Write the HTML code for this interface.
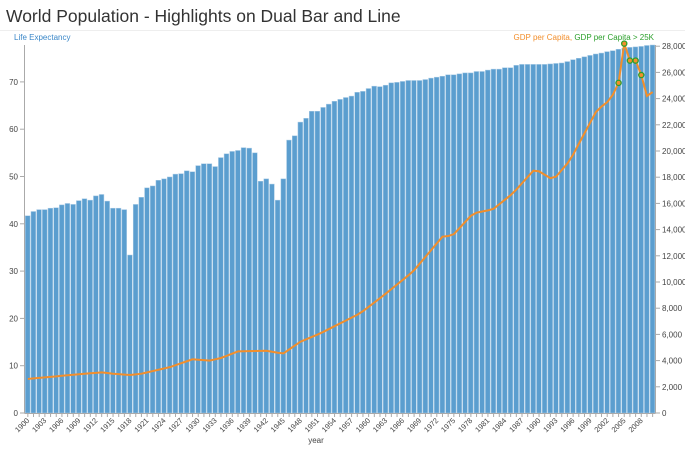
<!DOCTYPE html>
<html><head><meta charset="utf-8"><style>
body{margin:0;background:#fff;font-family:"Liberation Sans",sans-serif}
svg text{font-family:"Liberation Sans",sans-serif}
</style></head><body>
<svg id="c" width="685" height="447" xmlns="http://www.w3.org/2000/svg">
<text x="6" y="22" font-size="17.5" fill="#333">World Population - Highlights on Dual Bar and Line</text>
<line x1="0" y1="30.5" x2="685" y2="30.5" stroke="#eee"/>
<text x="14" y="40" font-size="8" fill="#3a87c8">Life Expectancy</text>
<text x="654" y="40" font-size="8" text-anchor="end"><tspan fill="#f28e2b">GDP per Capita, </tspan><tspan fill="#2ca02c">GDP per Capita &gt; 25K</tspan></text>
<text x="316" y="443" font-size="8" fill="#444" text-anchor="middle">year</text>
<g id="g"></g>
</svg>
<script>
var le=[41.7,42.6,43.0,43.0,43.3,43.4,44.0,44.3,44.1,44.9,45.3,45.0,45.9,46.2,44.8,43.3,43.3,43.0,33.4,44.1,45.6,47.6,48.0,49.2,49.5,49.9,50.5,50.6,51.2,51.0,52.3,52.7,52.7,52.1,54.0,54.8,55.3,55.5,56.1,56.0,55.0,49.0,49.5,48.4,45.0,49.5,57.7,58.6,61.5,62.3,63.8,63.8,64.6,65.3,65.9,66.3,66.7,67.0,67.8,68.0,68.6,69.1,69.0,69.3,69.8,69.9,70.1,70.3,70.3,70.3,70.5,70.8,71.0,71.2,71.5,71.5,71.7,71.9,71.9,72.2,72.2,72.5,72.7,72.7,73.0,73.0,73.5,73.7,73.7,73.7,73.7,73.7,73.8,73.9,74.0,74.3,74.7,75.0,75.3,75.6,75.9,76.1,76.4,76.6,76.9,77.1,77.3,77.4,77.5,77.7,77.8];
var kp=[[0,2600],[5,2800],[10,3000],[13,3100],[15,3000],[18,2900],[20,3000],[25,3500],[29,4100],[32,4000],[34,4200],[37,4700],[42,4750],[44,4600],[45,4550],[48,5443],[51.5,6080],[58.5,7610],[62.5,8930],[67.8,10790],[73.1,13510],[74.7,13510],[78.4,15240],[81.9,15550],[85.4,16770],[89,18500],[89.8,18500],[92.5,17790],[95.5,19310],[97.2,20710],[100.2,23130],[102.5,23890],[103,24300],[104,25200],[105,28200],[106,26900],[107,26900],[108,25800],[109,24200],[110,24500]];
function gdp(i){for(var k=0;k<kp.length-1;k++){if(i>=kp[k][0]&&i<=kp[k+1][0]){var t=(i-kp[k][0])/(kp[k+1][0]-kp[k][0]);return kp[k][1]+t*(kp[k+1][1]-kp[k][1]);}}return kp[kp.length-1][1];}
var X0=25,bw=5.68,Y0=413,ly=4.73,ry=0.0131,s='';
for(var i=0;i<111;i++){var h=le[i]*ly;s+='<rect x="'+(X0+i*bw+0.3).toFixed(2)+'" y="'+(Y0-h).toFixed(2)+'" width="'+(bw-0.9).toFixed(2)+'" height="'+h.toFixed(2)+'" fill="#5b9ecf" stroke="#a9cbe6" stroke-width="0.5"/>';}
var pts=[],mk='';
for(var i=0;i<111;i++){var g=gdp(i);var x=X0+i*bw+bw/2,y=Y0-g*ry;pts.push(x.toFixed(2)+','+y.toFixed(2));if(g>25000)mk+='<circle cx="'+x.toFixed(2)+'" cy="'+y.toFixed(2)+'" r="2.6" fill="#f28e2b" stroke="#2ca02c" stroke-width="1.3"/>';}
s+='<polyline points="'+pts.join(' ')+'" fill="none" stroke="#f28e2b" stroke-width="2"/>'+mk;
s+='<line x1="24.5" y1="45" x2="24.5" y2="413" stroke="#aaa"/><line x1="655.5" y1="45" x2="655.5" y2="413" stroke="#aaa"/><line x1="24.5" y1="413.5" x2="655.5" y2="413.5" stroke="#aaa"/>';
for(var v=0;v<=70;v+=10){var y=Y0-v*ly;s+='<line x1="20" y1="'+y+'" x2="24.5" y2="'+y+'" stroke="#aaa"/><text x="18" y="'+(y+3)+'" font-size="8" fill="#444" text-anchor="end">'+v+'</text>';}
for(var v=0;v<=28000;v+=2000){var y=Y0-v*ry;s+='<line x1="655.5" y1="'+y+'" x2="660" y2="'+y+'" stroke="#aaa"/><text x="662" y="'+(y+3)+'" font-size="8" fill="#444">'+(v?v.toLocaleString('en-US'):'0')+'</text>';}
for(var i=0;i<111;i++){var x=X0+i*bw+bw/2;s+='<line x1="'+x+'" y1="413.5" x2="'+x+'" y2="417" stroke="#aaa"/>';if(i%3==0&&i<=108)s+='<text transform="translate('+(x+2)+',421) rotate(-45)" font-size="7.5" fill="#444" text-anchor="end">'+(1900+i)+'</text>';}
document.getElementById('g').innerHTML=s;
</script>
</body></html>
